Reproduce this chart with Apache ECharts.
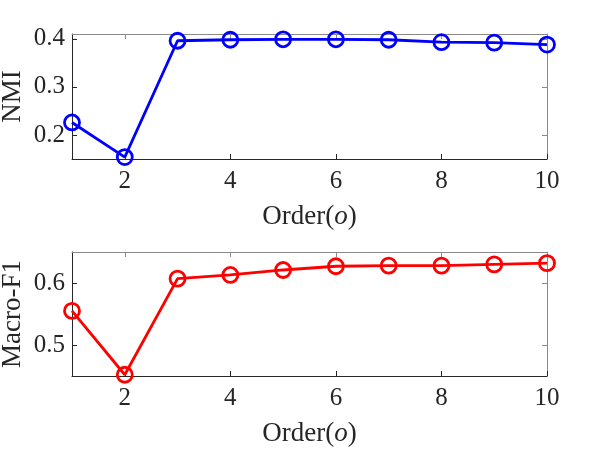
<!DOCTYPE html>
<html>
<head>
<meta charset="utf-8">
<script src="https://cdn.jsdelivr.net/npm/echarts@6/dist/echarts.min.js"></script>
<style>
html,body{margin:0;padding:0;background:#fff;}
#c{width:598px;height:459px;}
</style>
</head>
<body>
<div id="c"></div>
<script>
const orders = [1, 2, 3, 4, 5, 6, 7, 8, 9, 10];
const nmiValues = [0.226, 0.154, 0.396, 0.398, 0.399, 0.399, 0.398, 0.393, 0.392, 0.388];
const macroF1Values = [0.555, 0.452, 0.607, 0.613, 0.621, 0.627, 0.628, 0.628, 0.630, 0.632];
const xTicks = [2, 4, 6, 8, 10];
const nmiTicks = [0.2, 0.3, 0.4];
const f1Ticks = [0.5, 0.6];

const FONT = "'Liberation Serif', 'Times New Roman', serif";
const AX = '#262626';
const AX2 = '#8a8a8a';

function pairs(xs, ys) { return xs.map((x, i) => [x, ys[i]]); }

function xAx(grid, show) {
  const c = show ? AX : AX2;
  return {
    type: 'value', gridIndex: grid, min: 1, max: 10,
    position: show ? 'bottom' : 'top',
    name: show ? '{a|Order(}{b|o}{a|)}' : '',
    nameLocation: 'middle', nameGap: 44, nameMoveOverlap: false,
    nameTextStyle: {
      rich: {
        a: { fontFamily: FONT, fontSize: 27, color: AX },
        b: { fontFamily: FONT, fontSize: 27, fontStyle: 'italic', color: AX }
      }
    },
    splitLine: { show: false },
    axisLine: { show: true, onZero: false, lineStyle: { color: c, width: 1 } },
    axisTick: { show: true, inside: true, length: 5, customValues: xTicks, lineStyle: { color: c } },
    axisLabel: { show: show, customValues: xTicks, fontFamily: FONT, fontSize: 25, color: AX, margin: 10 }
  };
}

function yAx(grid, show, min, max, ticks, name) {
  const c = show ? AX : AX2;
  return {
    type: 'value', gridIndex: grid, min: min, max: max,
    position: show ? 'left' : 'right',
    name: show ? name : '',
    nameLocation: 'middle', nameGap: 46, nameMoveOverlap: false,
    nameTextStyle: { fontFamily: FONT, fontSize: 27, color: AX },
    splitLine: { show: false },
    axisLine: { show: true, onZero: false, lineStyle: { color: c, width: 1 } },
    axisTick: { show: true, inside: true, length: 5, customValues: ticks, lineStyle: { color: c } },
    axisLabel: {
      show: show, customValues: ticks, fontFamily: FONT, fontSize: 25, color: AX, margin: 7,
      formatter: v => v.toFixed(1)
    }
  };
}

function ser(xi, yi, data, color) {
  return {
    type: 'line', xAxisIndex: xi, yAxisIndex: yi, data: data,
    symbol: 'circle', symbolSize: 15,
    lineStyle: { color: color, width: 2.8 },
    itemStyle: { color: 'rgba(0,0,0,0)', borderColor: color, borderWidth: 2.8 },
    emphasis: { disabled: true },
    animation: false, z: 3
  };
}

const chart = echarts.init(document.getElementById('c'), null, { renderer: 'canvas' });
chart.setOption({
  backgroundColor: '#fff',
  animation: false,
  grid: [
    { left: 72, top: 34, width: 475, height: 125, containLabel: false, outerBoundsMode: 'none' },
    { left: 72, top: 252, width: 475, height: 124, containLabel: false, outerBoundsMode: 'none' }
  ],
  xAxis: [xAx(0, true), xAx(0, false), xAx(1, true), xAx(1, false)],
  yAxis: [
    yAx(0, true, 0.15, 0.41, nmiTicks, 'NMI'),
    yAx(0, false, 0.15, 0.41, nmiTicks, ''),
    yAx(1, true, 0.45, 0.65, f1Ticks, 'Macro-F1'),
    yAx(1, false, 0.45, 0.65, f1Ticks, '')
  ],
  series: [
    ser(0, 0, pairs(orders, nmiValues), '#0000ff'),
    ser(2, 2, pairs(orders, macroF1Values), '#ff0000')
  ]
});
</script>
</body>
</html>
